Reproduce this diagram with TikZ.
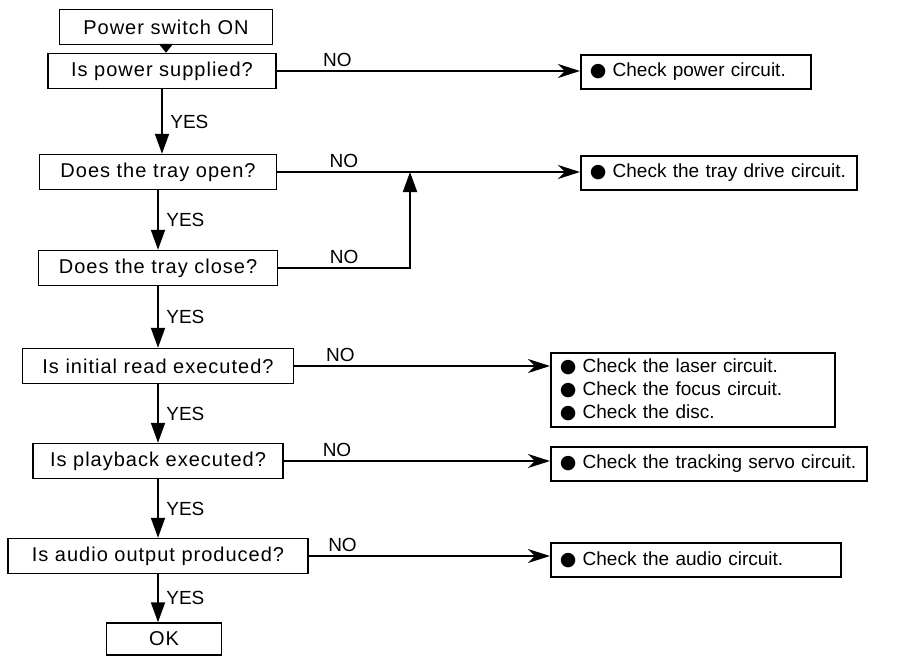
\documentclass[tikz,border=0pt]{standalone}
\usepackage{fontspec}
\setmainfont{Liberation Sans}
\newfontfamily\dejavu{DejaVu Sans}
\usetikzlibrary{arrows.meta}
\newcommand{\blob}{{\dejavu\char"25CF}\ }

\begin{document}
\begin{tikzpicture}[x=1pt,y=-1pt,
  font=\fontsize{19}{23}\selectfont,
  qbox/.style={draw,line width=1.5pt,minimum height=35pt,inner sep=2pt,
    font=\fontsize{20}{24}\selectfont\addfontfeature{LetterSpace=5}},
  rbox/.style={draw,line width=1.5pt,anchor=north west,align=left,
    inner xsep=9pt,inner ysep=6pt,minimum height=34pt},
  flow/.style={line width=2pt,-{Triangle[length=20pt,width=14pt]}},
  side/.style={line width=2pt,-{Stealth[length=22pt,width=14pt,inset=7pt]}}]
  \useasboundingbox (0,0) rectangle (918,662);

  % left column
  \node[qbox,minimum width=213pt] (pwr) at (166,27) {Power switch ON};
  \node[qbox,minimum width=228pt] (q1) at (162,71) {Is power supplied?};
  \node[qbox,minimum width=237pt] (q2) at (158,172) {Does the tray open?};
  \node[qbox,minimum width=239pt] (q3) at (158,268) {Does the tray close?};
  \node[qbox,minimum width=271pt] (q4) at (158,366) {Is initial read executed?};
  \node[qbox,minimum width=250pt] (q5) at (158,461) {Is playback executed?};
  \node[qbox,minimum width=300pt] (q6) at (158,556) {Is audio output produced?};
  \node[qbox,minimum width=115pt,minimum height=32pt] (ok) at (164,639) {OK};

  % right column
  \node[rbox,text width=212pt] (r1) at (580,54) {\blob Check power circuit.};
  \node[rbox,text width=258pt] (r2) at (580,155) {\blob Check the tray drive circuit.};
  \node[rbox,text width=266pt] (r4) at (550,352) {\blob Check the laser circuit.\\
    \blob Check the focus circuit.\\ \blob Check the disc.};
  \node[rbox,text width=298pt] (r5) at (550,446) {\blob Check the tracking servo circuit.};
  \node[rbox,text width=272pt] (r6) at (550,542) {\blob Check the audio circuit.};
  \coordinate (jn) at (410,172);

  % YES arrows
  \draw[line width=1.5pt,-{Triangle[length=9pt,width=14pt]}] (pwr) -- (pwr |- q1.north);
  \draw[flow] (q1) -- node[right,xshift=4pt]{YES} (q1 |- q2.north);
  \draw[flow] (q2) -- node[right,xshift=4pt]{YES} (q2 |- q3.north);
  \draw[flow] (q3) -- node[right,xshift=4pt]{YES} (q3 |- q4.north);
  \draw[flow] (q4) -- node[right,xshift=4pt]{YES} (q4 |- q5.north);
  \draw[flow] (q5) -- node[right,xshift=4pt]{YES} (q5 |- q6.north);
  \draw[flow] (q6) -- node[right,xshift=4pt]{YES} (q6 |- ok.north);

  % NO arrows
  \draw[side] (q1.east) -- node[above,pos=.2]{NO} (q1.east -| r1.west);
  \draw[side] (q2.east) -- node[above,pos=.22]{NO} (q2.east -| r2.west);
  \draw[flow] (q3.east) -| node[above,pos=.25]{NO} (jn);
  \draw[side] (q4.east) -- node[above,pos=.18]{NO} (q4.east -| r4.west);
  \draw[side] (q5.east) -- node[above,pos=.2]{NO} (q5.east -| r5.west);
  \draw[side] (q6.east) -- node[above,pos=.14]{NO} (q6.east -| r6.west);
\end{tikzpicture}
\end{document}
